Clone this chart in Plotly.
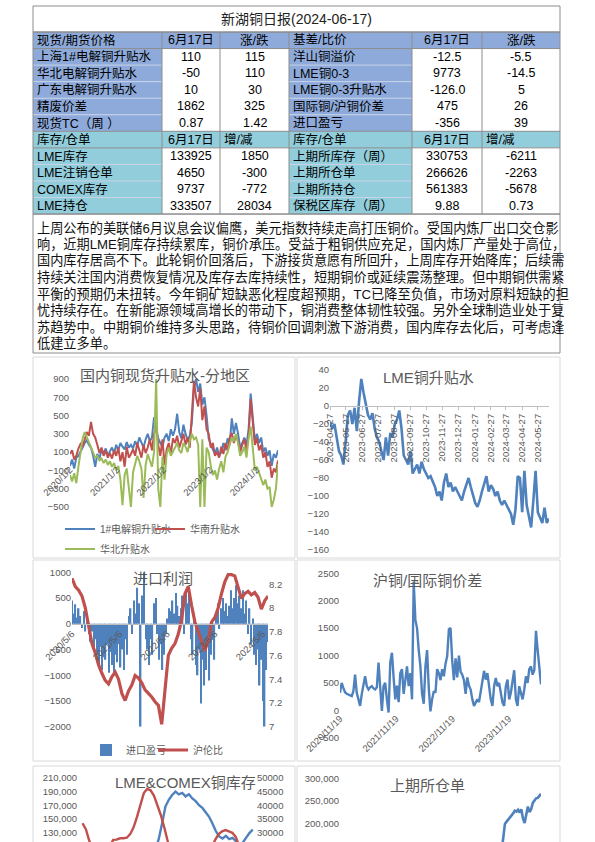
import pandas as pd
import plotly.graph_objects as go

W, H = 595, 842


def px(x):
    return x / W


def py(y):
    return 1 - y / H


FONT = "Liberation Sans, Noto Sans CJK SC, sans-serif"
GRAY = "#595959"
BLUE = "#4F81BD"
RED = "#C0504D"
GREEN = "#9BBB59"
HDR_BLUE = "#8EAADB"
HDR_TEAL = "#92CDDC"
LINE = "#8c8c8c"

# ---------------- table data ----------------
report_title = "新湖铜日报(2024-06-17)"
table_header = ["现货/期货价格", "6月17日", "涨/跌", "基差/比价", "6月17日", "涨/跌"]
label_a = ["上海1#电解铜升贴水", "华北电解铜升贴水", "广东电解铜升贴水", "精废价差", "现货TC（周 ）",
           "库存/仓单", "LME库存", "LME注销仓单", "COMEX库存", "LME持仓"]
value_a = ["110", "-50", "10", "1862", "0.87", "6月17日", "133925", "4650", "9737", "333507"]
change_a = ["115", "110", "30", "325", "1.42", "增/减", "1850", "-300", "-772", "28034"]
label_b = ["洋山铜溢价", "LME铜0-3", "LME铜0-3升贴水", "国际铜/沪铜价差", "进口盈亏",
           "库存/仓单", "上期所库存（周）", "上期所仓单", "上期所持仓", "保税区库存（周）"]
value_b = ["-12.5", "9773", "-126.0", "475", "-356", "6月17日", "330753", "266626", "561383", "9.88"]
change_b = ["-5.5", "-14.5", "5", "26", "39", "增/减", "-6211", "-2263", "-5678", "0.73"]

commentary_lines = [
    "上周公布的美联储6月议息会议偏鹰，美元指数持续走高打压铜价。受国内炼厂出口交仓影",
    "响，近期LME铜库存持续累库，铜价承压。受益于粗铜供应充足，国内炼厂产量处于高位，",
    "国内库存居高不下。此轮铜价回落后，下游接货意愿有所回升，上周库存开始降库；后续需",
    "持续关注国内消费恢复情况及库存去库持续性，短期铜价或延续震荡整理。但中期铜供需紧",
    "平衡的预期仍未扭转。今年铜矿短缺恶化程度超预期，TC已降至负值，市场对原料短缺的担",
    "忧持续存在。在新能源领域高增长的带动下，铜消费整体韧性较强。另外全球制造业处于复",
    "苏趋势中。中期铜价维持多头思路，待铜价回调刺激下游消费，国内库存去化后，可考虑逢",
    "低建立多单。",
]

# ---------------- chart 1: 国内铜现货升贴水-分地区 ----------------
c1_blue = [-50, 20, -80, 40, 60, 100, 150, 200, 230, 180,
           150, 60, -60, 80, 30, 120, 90, 140, 60, 110,
           150, 90, 180, 120, 200, 160, 130, 210, 150, 180,
           140, 220, 170, 260, 200, 150, 240, 300, 220, 260,
           480, 380, 250, 200, 160, 260, 300, 220, 350, 280,
           350, 520, 320, 250, 400, 300, 230, 280, 420, 800,
           900, 760, 850, 620, 700, 500, 250, 180, 120, 80,
           150, 60, 100, 200, 120, 250, 180, 470, 300, 420,
           300, 150, 200, 260, 180, 350, 740, 500, 220, 300,
           200, 260, 100, 150, 60, 120, -50, 80, 40, 120]
c1_red = [80, 120, 20, 60, 140, 190, 160, 250, 320, 280,
          430, 300, 260, 180, 90, 150, 60, 120, 40, 90,
          30, 120, 60, 150, 0, 100, -60, 160, 40, 80,
          130, 60, 200, 120, 40, 180, 90, 150, 240, 120,
          300, 380, 180, 60, 240, -40, 130, 200, 80, 250,
          200, 280, 150, 220, 300, 180, 260, 150, 560, 880,
          700, 600, 800, 450, 600, 350, 300, 150, 200, 60,
          100, 40, 160, 80, 200, 120, 260, 310, 200, 280,
          220, 100, 180, 240, 120, 280, 680, 400, 180, 250,
          120, 180, 40, 100, -60, 0, -180, -80, -120, 10]
c1_green = [-150, -220, -130, -240, -60, 120, 250, 320, 260, 200,
            150, 80, 40, 60, 10, 30, -20, 20, -40, 0,
            -60, -20, -100, -50, -200, -480, -150, -80, -300, -500,
            -120, -20, 60, 0, -80, -400, -40, 80, 20, -60,
            100, 900, -300, -500, 50, -200, 80, 150, 60, 100,
            150, 200, 120, 90, 200, 160, 100, 220, 300, 240,
            260, 180, -500, 240, -500, 150, 100, -50, -150, -100,
            -200, -80, 0, -120, 50, 100, 180, 260, 220, 300,
            200, 60, 100, 160, 40, 250, 380, 120, -100, -60,
            -120, -180, -260, -200, -300, -280, -500, -420, -300, -30]
c1_start, c1_end = "2020-01-02", "2024-06-17"
c1_tickvals = ["2020-01-02", "2021-01-02", "2022-01-02", "2023-01-02", "2024-01-02"]
c1_ticktext = ["2020/1/2", "2021/1/2", "2022/1/2", "2023/1/2", "2024/1/2"]

# ---------------- chart 2: LME铜升贴水 ----------------
c2_values = [-18, -25, -20, -35, -50, -55, -65, -40, -10, -5,
             -20, -2, -28, 5, 30, 15, 0, -10, -15, -8,
             -25, -35, -40, -50, -60, -35, -55, -30, -35, -20,
             -15, -5, -25, -55, -60, -65, -50, -75, -70, -65,
             -75, -62, -70, -75, -80, -78, -85, -90, -100, -95,
             -105, -85, -75, -90, -85, -95, -90, -95, -100, -105,
             -95, -88, -80, -90, -100, -108, -112, -105, -95, -85,
             -78, -95, -88, -92, -100, -95, -105, -110, -105, -110,
             -115, -120, -132, -115, -78, -80, -118, -72, -110, -125,
             -135, -105, -72, -118, -125, -130, -113, -130, -125]
c2_start, c2_end = "2023-04-27", "2024-06-17"
c2_tickvals = ["2023-04-27", "2023-05-27", "2023-06-27", "2023-07-27", "2023-08-27",
               "2023-09-27", "2023-10-27", "2023-11-27", "2023-12-27", "2024-01-27",
               "2024-02-27", "2024-03-27", "2024-04-27", "2024-05-27"]

# ---------------- chart 3: 进口利润 ----------------
c3_profit = [450, 200, 380, 120, 300, 150, -80, 250, -150, 60,
             -200, -350, -150, -500, -300, -600, -800, -450, -900, -650,
             -700, -400, -950, -550, -800, -1000, -600, -750, -400, -850,
             -500, -900, -300, -600, 150, 300, -200, 450, 200, 700,
             400, -2000, 550, 1000, -300, -500, -800, -300, -600, 400,
             500, -200, -700, -400, -900, -600, -200, 100, 300, 250,
             450, 200, 600, 350, 150, 300, 550, -200, 650, 400,
             700, -300, -600, 200, -800, -1000, -500, -1550, -700, -1200,
             -900, -400, -1100, -600, -300, -700, 200, 400, -100, 300,
             500, 250, 400, 150, 350, 650, 300, 500, 750, 400,
             550, 300, 650, 200, 450, -200, 300, -400, 100, -600,
             -800, -500, -1200, -700, -1500, -2000, -900, -356]
c3_ratio = [8.25, 8.18, 8.15, 8.10, 8.00, 7.85, 7.70, 7.62, 7.52, 7.45,
            7.39, 7.36, 7.42, 7.46, 7.40, 7.28, 7.22, 7.30, 7.35, 7.43,
            7.41, 7.37, 7.31, 7.28, 7.25, 7.21, 7.18, 7.02, 7.35, 7.60,
            7.66, 7.70, 7.78, 7.90, 8.12, 8.18, 8.02, 7.88, 7.80, 7.72,
            7.64, 7.73, 7.88, 7.92, 8.00, 8.12, 8.22, 8.28, 8.28, 8.27,
            8.18, 8.08, 8.12, 8.14, 8.11, 8.13, 8.09, 7.99, 8.06, 8.10]
c3_start, c3_end = "2020-05-06", "2024-06-17"
c3_tickvals = ["2020-05-06", "2021-05-06", "2022-05-06", "2023-05-06", "2024-05-06"]
c3_ticktext = ["2020/5/6", "2021/5/6", "2022/5/6", "2023/5/6", "2024/5/6"]

# ---------------- chart 4: 沪铜/国际铜价差 ----------------
c4_values = [320, 500, 410, 330, 300, 290, 270, 260, 350, 650,
             320, 200, 80, 300, 500, 620, 440, 380, 420, 440,
             400, 380, 420, 870, 420, -10, 440, 500, 200, -40,
             870, 1050, 600, 200, 450, 150, 680, 750, 300, 550,
             800, 440, 680, 200, 2350, 1650, 1500, 1100, 800, 300,
             120, 800, 1100, 400, -20, 200, 350, 320, 750, 680,
             550, 750, 620, 850, 990, 1480, 1500, 900, 550, 950,
             600, 1000, 700, 650, 550, 300, 600, 450, 380, 200,
             80, 140, 200, 150, 320, 550, 720, 560, 680, 440,
             200, 80, 440, 590, 440, 500, 320, 140, 80, 440,
             560, 200, 320, 560, 730, 200, 80, 440, 320, 200,
             380, 620, 500, 750, 800, 650, 730, 1450, 1100, 750, 475]
c4_start, c4_end = "2020-11-19", "2024-06-17"
c4_tickvals = ["2020-11-19", "2021-11-19", "2022-11-19", "2023-11-19"]
c4_ticktext = ["2020/11/19", "2021/11/19", "2022/11/19", "2023/11/19"]

# ---------------- chart 5: LME&COMEX铜库存 ----------------
c5_comex = [33500, 31200, 27000, 24000, 22000, 21000, 22000, 23000, 25000, 27400,
            27500, 28000, 28000, 28200, 29500, 32000, 35800, 40000, 44500, 46000,
            45500, 43500, 40000, 36500, 32000, 26000, 22000, 20000, 19000, 18000,
            17500, 17000, 17500, 18500, 19500, 21000, 22500, 24000, 25000, 27500,
            29500, 30500, 31000, 30500, 30000, 28500, 26000, 22000, 18000, 14000, 10000]
c5_comex_start, c5_comex_end = "2023-01-05", "2024-06-14"
c5_lme = [105000, 120000, 143000, 168000, 178000, 185000, 190000, 186000, 188000, 183000,
          186000, 180000, 176000, 170000, 166000, 160000, 153000, 143000, 132000, 124000,
          121000, 125000, 120000, 122000, 116000, 112000, 115000, 122000, 129000, 134000]
c5_lme_start, c5_lme_end = "2023-08-18", "2024-06-14"

# ---------------- chart 6: 上期所仓单 ----------------
c6_values = [140000, 165000, 200000, 205000, 209000, 214000, 218000, 223000, 229000, 227000,
             231000, 225000, 232000, 212000, 202000, 218000, 238000, 226000, 232000, 246000,
             250000, 256000, 257000, 263000, 266000]
c6_start, c6_end = "2024-03-03", "2024-06-14"

# =====================================================================
fig = go.Figure()

# ---- chart 1 ----
d1 = pd.date_range(c1_start, c1_end, periods=len(c1_blue))
fig.add_trace(go.Scatter(x=d1, y=c1_blue, mode="lines", name="1#电解铜升贴水",
                         line=dict(color=BLUE, width=2), xaxis="x", yaxis="y", legend="legend"))
fig.add_trace(go.Scatter(x=d1, y=c1_red, mode="lines", name="华南升贴水",
                         line=dict(color=RED, width=2), xaxis="x", yaxis="y", legend="legend2"))
fig.add_trace(go.Scatter(x=d1, y=c1_green, mode="lines", name="华北升贴水",
                         line=dict(color=GREEN, width=2), xaxis="x", yaxis="y", legend="legend3"))

# ---- chart 2 ----
d2 = pd.date_range(c2_start, c2_end, periods=len(c2_values))
fig.add_trace(go.Scatter(x=d2, y=c2_values, mode="lines", showlegend=False,
                         line=dict(color=BLUE, width=2.6), xaxis="x2", yaxis="y2"))

# ---- chart 3 ----
d3b = pd.date_range(c3_start, c3_end, periods=len(c3_profit))
d3r = pd.date_range(c3_start, c3_end, periods=len(c3_ratio))
fig.add_trace(go.Bar(x=d3b, y=c3_profit, name="进口盈亏", marker=dict(color=BLUE, line_width=0),
                     xaxis="x3", yaxis="y3", legend="legend4"))
fig.add_trace(go.Scatter(x=d3r, y=c3_ratio, mode="lines", name="沪伦比",
                         line=dict(color=RED, width=3.2), xaxis="x3", yaxis="y4", legend="legend5"))

# ---- chart 4 ----
d4 = pd.date_range(c4_start, c4_end, periods=len(c4_values))
fig.add_trace(go.Scatter(x=d4, y=c4_values, mode="lines", showlegend=False,
                         line=dict(color=BLUE, width=2.4), xaxis="x4", yaxis="y5"))

# ---- chart 5 ----
d5c = pd.date_range(c5_comex_start, c5_comex_end, periods=len(c5_comex))
d5l = pd.date_range(c5_lme_start, c5_lme_end, periods=len(c5_lme))
fig.add_trace(go.Scatter(x=d5c, y=c5_comex, mode="lines", showlegend=False,
                         line=dict(color=RED, width=2.4), xaxis="x5", yaxis="y7"))
fig.add_trace(go.Scatter(x=d5l, y=c5_lme, mode="lines", showlegend=False,
                         line=dict(color=BLUE, width=2.4), xaxis="x5", yaxis="y6"))

# ---- chart 6 ----
d6 = pd.date_range(c6_start, c6_end, periods=len(c6_values))
fig.add_trace(go.Scatter(x=d6, y=c6_values, mode="lines", showlegend=False,
                         line=dict(color=BLUE, width=2.6), xaxis="x6", yaxis="y8"))


# ---------------- layout ----------------
def zero_pos(ymin, ymax, top_px, bot_px):
    return py(bot_px) + (0 - ymin) / (ymax - ymin) * (py(top_px) - py(bot_px))


tickf = dict(family=FONT, size=9.5, color=GRAY)
base_y = dict(showgrid=False, zeroline=False, showline=False, ticks="", tickfont=tickf,
              automargin=False)
base_x = dict(showgrid=False, zeroline=False, type="date", automargin=False, tickfont=tickf)

layout = dict(
    width=W, height=H, margin=dict(l=0, r=0, t=0, b=0, pad=0, autoexpand=False), autosize=False,
    paper_bgcolor="white", plot_bgcolor="rgba(0,0,0,0)", bargap=0.15,
    font=dict(family=FONT, color=GRAY),
    # chart 1
    xaxis=dict(base_x, domain=[px(70), px(278)], range=[c1_start, c1_end],
               anchor="free", position=zero_pos(-500, 900, 379, 507),
               tickvals=c1_tickvals, ticktext=c1_ticktext, tickangle=-45,
               showline=False, ticks=""),
    yaxis=dict(base_y, domain=[py(507), py(379)], range=[-500, 900], tick0=100, dtick=200,
               anchor="x"),
    # chart 2
    xaxis2=dict(base_x, domain=[px(330), px(549)], range=[c2_start, c2_end],
                anchor="free", position=zero_pos(-160, 40, 370, 550),
                tickvals=c2_tickvals, ticktext=c2_tickvals, tickangle=-90,
                showline=True, linecolor="#bfbfbf",
                ticks="outside", ticklen=3, tickcolor="#bfbfbf"),
    yaxis2=dict(base_y, domain=[py(550), py(370)], range=[-160, 40], tick0=0, dtick=20,
                anchor="x2"),
    # chart 3
    xaxis3=dict(base_x, domain=[px(72), px(268)], range=[c3_start, c3_end],
                anchor="free", position=zero_pos(-2000, 1000, 572.3, 726.7),
                tickvals=c3_tickvals, ticktext=c3_ticktext, tickangle=-45,
                showline=True, linecolor="#bfbfbf", ticks=""),
    yaxis3=dict(base_y, domain=[py(726.7), py(572.3)], range=[-2000, 1000], tick0=0, dtick=500,
                anchor="x3"),
    yaxis4=dict(base_y, domain=[py(726.7), py(572.3)], range=[7, 8.3], tick0=7, dtick=0.2,
                anchor="x3", overlaying="y3", side="right"),
    # chart 4
    xaxis4=dict(base_x, domain=[px(340), px(541)], range=[c4_start, c4_end],
                anchor="free", position=zero_pos(-500, 2500, 573.3, 737.7),
                tickvals=c4_tickvals, ticktext=c4_ticktext, tickangle=-45,
                showline=False, ticks=""),
    yaxis5=dict(base_y, domain=[py(737.7), py(573.3)], range=[-500, 2500], tick0=0, dtick=500,
                anchor="x4"),
    # chart 5
    xaxis5=dict(base_x, domain=[px(78), px(256)], range=["2022-12-22", "2024-06-24"],
                visible=False, anchor="y6"),
    yaxis6=dict(base_y, domain=[0, py(778)], range=[115900, 210000],
                tickvals=[130000, 150000, 170000, 190000, 210000], tickformat=",d", anchor="x5"),
    yaxis7=dict(base_y, domain=[0, py(778)], range=[26640, 50000],
                tickvals=[30000, 35000, 40000, 45000, 50000], tickformat="d",
                anchor="x5", overlaying="y6", side="right"),
    # chart 6
    xaxis6=dict(base_x, domain=[px(340), px(541)], range=["2023-01-05", "2024-06-14"],
                visible=False, anchor="y8"),
    yaxis8=dict(base_y, domain=[0, py(778.3)], range=[160300, 300000],
                tickvals=[200000, 250000, 300000], tickformat=",d", anchor="x6"),
)

leg = dict(orientation="h", xanchor="left", yanchor="middle", bgcolor="rgba(0,0,0,0)",
           font=dict(family=FONT, size=10, color=GRAY), borderwidth=0)
layout["legend"] = dict(leg, x=px(60), y=py(529))
layout["legend2"] = dict(leg, x=px(150), y=py(529))
layout["legend3"] = dict(leg, x=px(60), y=py(549))
layout["legend4"] = dict(leg, x=px(86), y=py(750))
layout["legend5"] = dict(leg, x=px(153), y=py(750))

fig.update_layout(**layout)

# ---------------- table (drawn as cells) ----------------
shapes = []
ann = []


def rect(x0, y0, x1, y1, color="#c8c8c8", width=1, fill=None):
    d = dict(type="rect", xref="paper", yref="paper", x0=px(x0), x1=px(x1), y0=py(y1), y1=py(y0),
             line=dict(color=color, width=width), layer="below")
    if fill is not None:
        d["fillcolor"] = fill
        if width == 0:
            d["line"] = dict(width=0)
    return d


def hline(x0, x1, y, color=LINE, width=1):
    return dict(type="line", xref="paper", yref="paper", x0=px(x0), x1=px(x1), y0=py(y), y1=py(y),
                line=dict(color=color, width=width), layer="below")


def vline(x, y0, y1, color=LINE, width=1):
    return dict(type="line", xref="paper", yref="paper", x0=px(x), x1=px(x), y0=py(y0), y1=py(y1),
                line=dict(color=color, width=width), layer="below")


col_x = [33, 162, 220, 289, 412, 482, 560]
row_top = 32.0
row_h = 16.55
table_rows = [table_header] + [list(r) for r in zip(label_a, value_a, change_a,
                                                      label_b, value_b, change_b)]
section_row = 1 + label_a.index("库存/仓单")

for r, row in enumerate(table_rows):
    y0 = row_top + r * row_h
    y1 = y0 + row_h
    in_second = r >= section_row
    for c, txt in enumerate(row):
        is_label_col = c in (0, 3)
        if r == 0:
            fill = HDR_BLUE
        elif r == section_row:
            fill = HDR_TEAL
        elif is_label_col:
            fill = HDR_TEAL if in_second else HDR_BLUE
        else:
            fill = "white"
        shapes.append(rect(col_x[c], y0, col_x[c + 1], y1, fill=fill, width=0))
        left = is_label_col or (r == section_row and c in (2, 5))
        ann.append(dict(text=txt, xref="paper", yref="paper", showarrow=False,
                        x=px(col_x[c] + 2) if left else px((col_x[c] + col_x[c + 1]) / 2),
                        xanchor="left" if left else "center",
                        y=py((y0 + y1) / 2), yanchor="middle",
                        font=dict(family=FONT, size=12.5, color="black")))
    if 0 < r < len(table_rows) and r != section_row and r != section_row + 1 and r != 1:
        shapes.append(hline(col_x[0], col_x[1], y0, color="#c9d3e6", width=1))
        shapes.append(hline(col_x[3], col_x[4], y0, color="#c9d3e6", width=1))

table_bottom = row_top + len(table_rows) * row_h
for x in col_x:
    shapes.append(vline(x, row_top, table_bottom))
for y in [row_top, row_top + row_h, row_top + section_row * row_h,
          row_top + (section_row + 1) * row_h, table_bottom]:
    shapes.append(hline(col_x[0], col_x[-1], y))

shapes.append(rect(33, 6, 560, row_top, color=LINE))
shapes.append(rect(33, table_bottom, 560, 353, color=LINE))

for (x0, y0, x1, y1) in [(33, 357, 295, 558), (297, 357, 560, 558),
                         (33, 560, 295, 761), (297, 560, 560, 761),
                         (33, 766, 295, 860), (297, 766, 560, 860)]:
    shapes.append(rect(x0, y0, x1, y1, color="#d9d9d9"))
fig.update_layout(shapes=shapes)

# ---- texts ----
ann.append(dict(text=report_title, x=px(296), y=py(19), xref="paper", yref="paper",
                showarrow=False, xanchor="center", yanchor="middle",
                font=dict(family=FONT, size=14, color="#222222")))
for i, line in enumerate(commentary_lines):
    ann.append(dict(text=line, x=px(35), y=py(228 + 16.43 * i), xref="paper", yref="paper",
                    showarrow=False, xanchor="left", yanchor="middle",
                    font=dict(family=FONT, size=13.2, color="#111111")))
chart_titles = [("国内铜现货升贴水-分地区", 165, 375), ("LME铜升贴水", 428, 377),
                ("进口利润", 163, 578), ("沪铜/国际铜价差", 427, 580),
                ("LME&COMEX铜库存", 185, 782), ("上期所仓单", 427, 785)]
for t, x, y in chart_titles:
    ann.append(dict(text=t, x=px(x), y=py(y), xref="paper", yref="paper", showarrow=False,
                    xanchor="center", yanchor="middle",
                    font=dict(family=FONT, size=15, color=GRAY)))
fig.update_layout(annotations=ann)

fig.write_html("out.html", config={"displayModeBar": False},
               post_script="document.body.style.margin='0px';")
